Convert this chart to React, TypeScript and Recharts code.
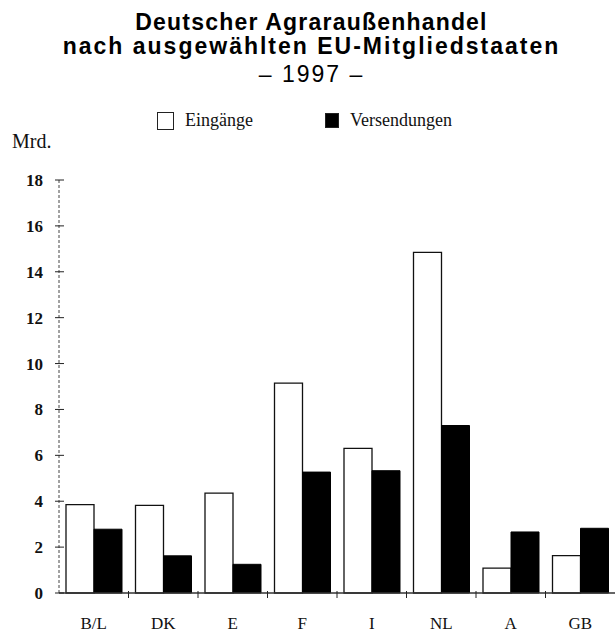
import { BarChart, Bar, XAxis, YAxis } from "recharts";

const countries = ["B/L", "DK", "E", "F", "I", "NL", "A", "GB"];
const eingaenge = [3.85, 3.82, 4.35, 9.15, 6.3, 14.85, 1.08, 1.63];
const versendungen = [2.78, 1.62, 1.25, 5.27, 5.33, 7.3, 2.66, 2.82];
const seriesNames = ["Eingänge", "Versendungen"];
const yTicks = [0, 2, 4, 6, 8, 10, 12, 14, 16, 18];

const data = countries.map((c, i) => ({
  country: c,
  eingaenge: eingaenge[i],
  versendungen: versendungen[i],
}));

const W = 615;
const H = 633;
const Y_AXIS_W = 59;
const BAND = (W - Y_AXIS_W) / countries.length;
const serif = "'Liberation Serif', 'Times New Roman', serif";
const sans = "'Liberation Sans', Arial, sans-serif";

function XTick(props: any) {
  const { x, y, payload, index } = props;
  return (
    <g>
      <text x={x} y={y + 36} textAnchor="middle" fontFamily={serif} fontSize={17} fill="#111">
        {payload.value}
      </text>
      {index < countries.length - 1 && (
        <line x1={x + BAND / 2} x2={x + BAND / 2} y1={y - 2} y2={y + 5} stroke="#222" strokeWidth={1} />
      )}
    </g>
  );
}

function YTick(props: any) {
  const { x, y, payload } = props;
  return (
    <g>
      <line x1={x - 4} x2={x + 5} y1={y} y2={y} stroke="#222" strokeWidth={1} />
      <text x={x - 16} y={y} dy="0.35em" textAnchor="end" fontFamily={serif} fontSize={17} fontWeight="bold" fill="#111">
        {payload.value}
      </text>
    </g>
  );
}

// title lines are placed one by one, the scan has uneven spacing
const titleLine = (top: number, text: string, bold: boolean, spacing: number) => (
  <div
    style={{
      position: "absolute",
      top,
      left: 4,
      width: W,
      textAlign: "center",
      fontFamily: sans,
      fontSize: 23,
      lineHeight: "23px",
      fontWeight: bold ? "bold" : "normal",
      letterSpacing: spacing,
      color: "#000",
    }}
  >
    {text}
  </div>
);

export default function App() {
  const legendX = [157, 325];
  return (
    <div style={{ position: "absolute", left: 0, top: 0, width: W, height: H, background: "#fff" }}>
      {titleLine(11, "Deutscher Agraraußenhandel", true, 1.2)}
      {titleLine(35, "nach ausgewählten EU-Mitgliedstaaten", true, 2.0)}
      {titleLine(63, "– 1997 –", false, 2.0)}

      {seriesNames.map((name, i) => (
        <div key={name} style={{ position: "absolute", left: legendX[i], top: 110, display: "flex", alignItems: "center" }}>
          <div
            style={{
              width: i === 0 ? 17 : 14,
              height: i === 0 ? 18 : 15,
              boxSizing: "border-box",
              border: "1px solid #222",
              background: i === 0 ? "#fff" : "#000",
              marginRight: 11,
            }}
          />
          <span style={{ fontFamily: serif, fontSize: 18, color: "#111" }}>{name}</span>
        </div>
      ))}

      <div style={{ position: "absolute", left: 12, top: 130, fontFamily: serif, fontSize: 20, color: "#111" }}>Mrd.</div>

      <div style={{ position: "absolute", left: 0, top: 0 }}>
        <BarChart width={W} height={H} data={data} margin={{ top: 180, right: 0, left: 0, bottom: 0 }} barGap={0} barSize={28}>
          <XAxis
            dataKey="country"
            height={40}
            interval={0}
            tickLine={false}
            tickSize={0}
            tickMargin={0}
            axisLine={{ stroke: "#333", strokeWidth: 1.5 }}
            tick={<XTick />}
          />
          <YAxis
            width={Y_AXIS_W}
            domain={[0, 18]}
            ticks={yTicks}
            interval={0}
            tickLine={false}
            tickSize={0}
            tickMargin={0}
            axisLine={{ stroke: "#444", strokeWidth: 1, strokeDasharray: "3 2" }}
            tick={<YTick />}
          />
          <Bar dataKey="eingaenge" name={seriesNames[0]} fill="#fff" stroke="#111" strokeWidth={1.3} isAnimationActive={false} />
          <Bar dataKey="versendungen" name={seriesNames[1]} fill="#000" stroke="#000" strokeWidth={1} isAnimationActive={false} />
        </BarChart>
      </div>
    </div>
  );
}
